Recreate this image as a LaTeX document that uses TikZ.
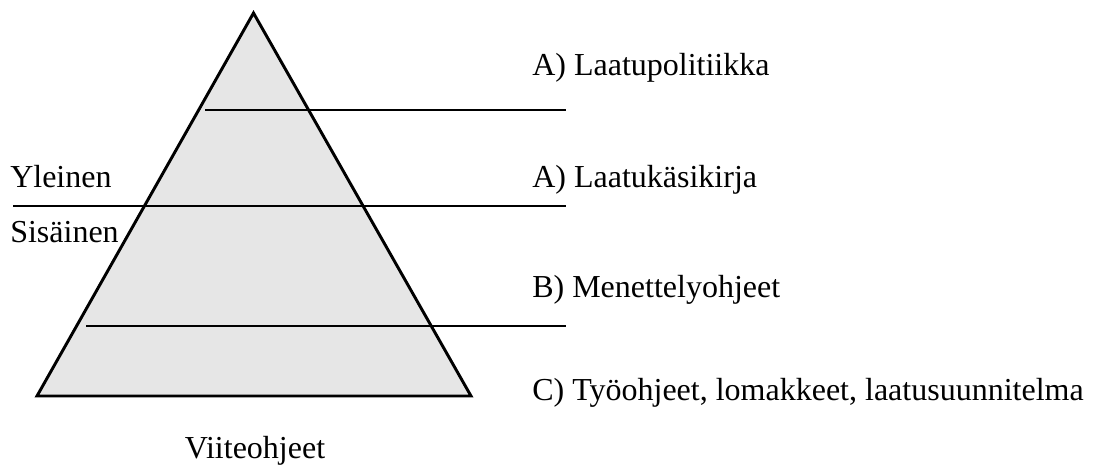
\documentclass[tikz,border=0pt]{standalone}
\usepackage{fontspec}
\setmainfont{Liberation Serif}
\usepackage{tikz}
\usetikzlibrary{positioning}
\definecolor{Shade}{HTML}{E6E6E6}
\tikzset{
  label/.style={anchor=base west,inner sep=0pt,font=\fontsize{24}{28}\selectfont},
  pyramid/.style={draw=black,fill=Shade,line width=2.2pt,line join=miter},
  level/.style={draw=black,line width=1.7pt}
}
\begin{document}
\begin{tikzpicture}[x=0.75pt,y=-0.75pt]
  \useasboundingbox (0,0) rectangle (1094,469);
  % pyramid
  \coordinate (apex) at (253.5,13);
  \coordinate (bl) at (37,396);
  \coordinate (br) at (471,396);
  \draw[pyramid] (apex) -- (bl) -- (br) -- cycle;
  % level lines
  \coordinate (l1a) at (205,110);  \coordinate (l1b) at (566,110);
  \coordinate (l2a) at (13,206);   \coordinate (l2b) at (566,206);
  \coordinate (l3a) at (86,326);   \coordinate (l3b) at (566,326);
  \draw[level] (l1a) -- (l1b);
  \draw[level] (l2a) -- (l2b);
  \draw[level] (l3a) -- (l3b);
  % texts
  \node[label] (policy) at (532,75) {A) Laatupolitiikka};
  \node[label] (manual) at (532,187) {A) Laatukäsikirja};
  \node[label] (procs) at (532,297) {B) Menettelyohjeet};
  \node[label] (work) at (532,400) {C) Työohjeet, lomakkeet, laatusuunnitelma};
  \node[label] (public) at (10,187) {Yleinen};
  \node[label] (internal) at (10,242) {Sisäinen};
  \node[label,anchor=base] (refs) at (255,458) {Viiteohjeet};
\end{tikzpicture}
\end{document}
